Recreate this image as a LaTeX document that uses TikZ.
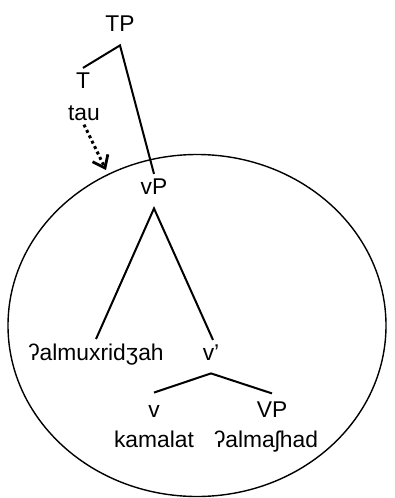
\documentclass[tikz,border=0pt]{standalone}
\usepackage{fontspec}
\setmainfont{Liberation Sans}
\usetikzlibrary{arrows.meta}

\tikzset{
  lbl/.style={inner sep=2pt, anchor=base, font=\fontsize{11.4}{13}\selectfont},
  branch/.style={line width=1pt},
}

\begin{document}
\begin{tikzpicture}[x=0.5pt, y=-0.5pt]
        \useasboundingbox (0,0) rectangle (395,498);
        % the vP domain
        \draw[line width=0.7pt] (197,325.5) ellipse [x radius=189, y radius=171];
        % labels
        \node[lbl] (TP)   at (120,32)  {TP};
        \node[lbl] (T)    at (83,88)   {T};
        \node[lbl] (tau)  at (84,120)  {tau};
        \node[lbl] (vP)   at (154,194) {vP};
        \node[lbl] (spec) at (96,360)  {ʔalmuxridʒah};
        \node[lbl] (vbar) at (211,360) {v\symbol{39}};
        \node[lbl] (v)    at (154,417) {v};
        \node[lbl] (VP)   at (272,417) {VP};
        \node[lbl] (kam)  at (154,447) {kamalat};
        \node[lbl] (alm)  at (266,447) {ʔalmaʃhad};
        \coordinate (land) at (106,170);
        % branches
        \draw[branch] (T.north) -- ([yshift=-4.5pt]TP.south) -- (vP.north);
        \draw[branch] (spec.north) -- ([yshift=-5pt]vP.south) -- ([xshift=1pt]vbar.north);
        \draw[branch] ([yshift=4pt]v.north) -- ([yshift=-4.5pt]vbar.south)
              -- ([yshift=1.75pt]VP.north);
        % movement of tau
        \draw[line width=1.5pt, dash pattern=on 1.5pt off 1.5pt,
              -{Straight Barb[length=5.5pt, width=8.5pt, line width=1.4pt]}]
              (tau.south) -- (land);
      \end{tikzpicture}
\end{document}
